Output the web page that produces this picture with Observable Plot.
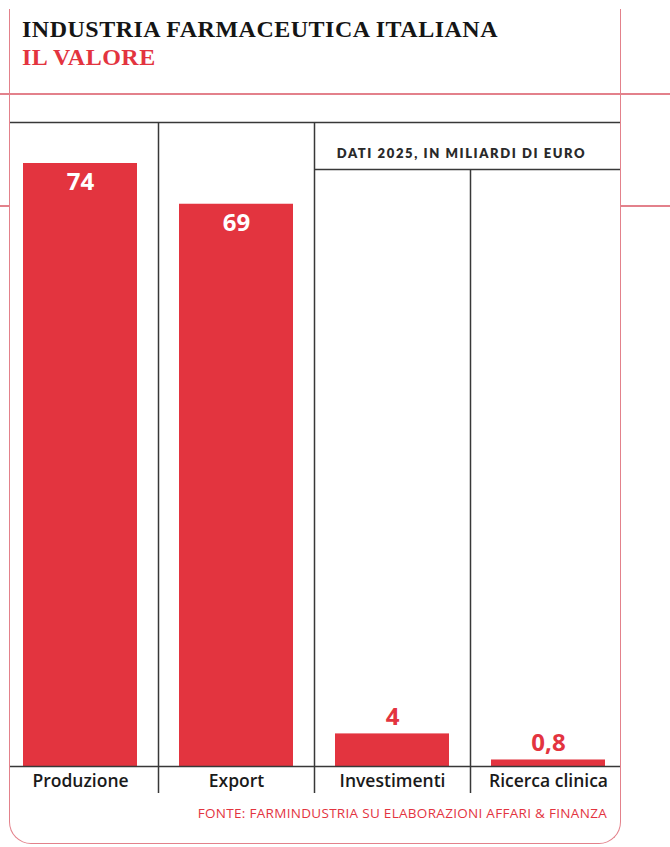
<!DOCTYPE html>
<html><head><meta charset="utf-8">
<script src="https://cdn.jsdelivr.net/npm/d3@7"></script>
<script src="https://cdn.jsdelivr.net/npm/@observablehq/plot@0.6"></script>
<style>
body{margin:0;background:#fff;}
#wrap{position:relative;width:670px;height:847px;overflow:hidden;font-family:"Open Sans",sans-serif;}
.pink{position:absolute;background:#e3818b;height:1.5px;}
#frame{position:absolute;left:9px;top:9px;width:612px;height:835px;border:1.5px solid #e3818b;border-top:none;border-radius:0 0 22px 22px;box-sizing:border-box;}
.t{position:absolute;left:22px;font-family:"Liberation Serif",serif;font-weight:bold;font-size:24px;letter-spacing:0.5px;line-height:24px;white-space:nowrap;}
#t1{top:17px;color:#151515;}
#t2{top:45px;color:#e3343f;}
#units{position:absolute;left:309px;width:305px;top:145px;text-align:center;font-family:Lato,sans-serif;font-weight:800;font-size:13px;letter-spacing:1.6px;color:#2a2a2a;line-height:16px;}
#source{position:absolute;right:63px;top:805px;font-size:13.5px;color:#e3343f;letter-spacing:0.3px;line-height:16px;white-space:nowrap;}
#chart{position:absolute;left:0;top:0;}
</style></head>
<body>
<div id="wrap">
  <div class="pink" style="left:0;width:670px;top:93px;"></div>
  <div class="pink" style="left:0;width:10px;top:205px;"></div>
  <div class="pink" style="left:620px;width:50px;top:205px;"></div>
  <div id="frame"></div>
  <div class="t" id="t1">INDUSTRIA FARMACEUTICA ITALIANA</div>
  <div class="t" id="t2">IL VALORE</div>
  <div id="units">DATI 2025, IN MILIARDI DI EURO</div>
  <div id="source">FONTE: FARMINDUSTRIA SU ELABORAZIONI AFFARI &amp; FINANZA</div>
  <div id="chart"></div>
</div>
<script>
const categories = ["Produzione", "Export", "Investimenti", "Ricerca clinica"];
const values = [74, 69, 4, 0.8];
const valueLabels = ["74", "69", "4", "0,8"];

const data = categories.map((c, i) => ({cat: c, value: values[i], label: valueLabels[i]}));
const red = "#e3343f", ink = "#383838";
const vmax = d3.max(values);

const chart = Plot.plot({
  width: 670, height: 847,
  marginTop: 163, marginBottom: 81, marginLeft: 2.3, marginRight: 43.7,
  x: {type: "band", domain: categories, padding: 0, axis: null},
  y: {domain: [0, vmax], axis: null},
  style: {background: "transparent", overflow: "visible", fontFamily: "'Open Sans', sans-serif"},
  marks: [
    Plot.barY(data, {x: "cat", y: "value", fill: red, insetLeft: 21, insetRight: 21}),
    Plot.ruleY([0], {stroke: ink, strokeWidth: 1.5, insetLeft: 7.7, insetRight: 6.3}),
    Plot.ruleY([vmax], {stroke: ink, strokeWidth: 1.5, dy: -41, insetLeft: 7.7, insetRight: 6.3}),
    Plot.ruleY([vmax], {stroke: ink, strokeWidth: 1.5, dy: 6, insetLeft: 312, insetRight: 6.3}),
    Plot.ruleX(categories.slice(1, 3), {x: d => d, dx: -78, stroke: ink, strokeWidth: 1.5, insetTop: -41, insetBottom: -27}),
    Plot.ruleX(categories.slice(3), {x: d => d, dx: -78, stroke: ink, strokeWidth: 1.5, insetTop: 6, insetBottom: -27}),
    Plot.text(data.filter(d => d.value >= 10), {x: "cat", y: "value", text: "label", fill: "white", dy: 19, fontSize: 24, fontWeight: 700}),
    Plot.text(data.filter(d => d.value < 10), {x: "cat", y: "value", text: "label", fill: red, dy: -17, fontSize: 24, fontWeight: 700}),
    Plot.text(categories, {x: d => d, frameAnchor: "bottom", dy: 20.5, fontSize: 17.5, fontWeight: 600, fill: "#1a1a1a"})
  ]
});
document.getElementById("chart").appendChild(chart);
</script>
</body></html>
